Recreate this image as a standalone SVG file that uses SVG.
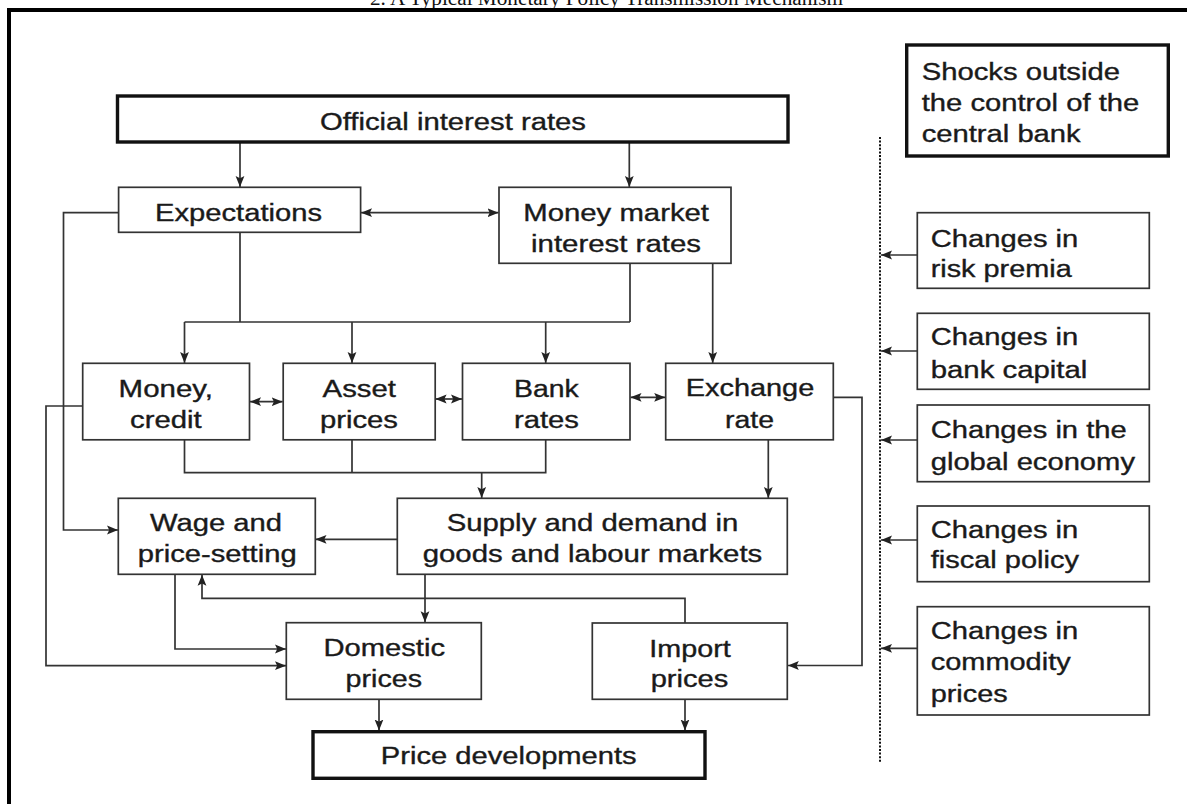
<svg xmlns="http://www.w3.org/2000/svg" width="1187" height="804" viewBox="0 0 1187 804">
<style>
.box{fill:#fff;stroke:#333;stroke-width:1.7}
.thick{fill:#fff;stroke:#111;stroke-width:3.4}
.t{font-family:"Liberation Sans",Arial,sans-serif;font-size:23px;fill:#1a1a1a;stroke:#1a1a1a;stroke-width:0.35}
.c{fill:none;stroke:#333;stroke-width:1.7}
.a{marker-end:url(#ah)}
.d{marker-end:url(#ah);marker-start:url(#ah)}
.dot{fill:none;stroke:#111;stroke-width:2;stroke-dasharray:2 1.6}
</style>
<defs>
<marker id="ah" markerUnits="userSpaceOnUse" markerWidth="11" markerHeight="11" viewBox="0 0 10 10" refX="10" refY="5" orient="auto-start-reverse">
<path d="M0,1 L10,5 L0,9 L2,5 Z" fill="#222"/>
</marker>
</defs>
<rect width="1187" height="804" fill="#fff"/>
<text x="370" y="5" font-family="Liberation Serif,Times New Roman,serif" font-size="20" fill="#111" textLength="473" lengthAdjust="spacingAndGlyphs">2. A Typical Monetary Policy Transmission Mechanism</text>
<path d="M9,804 V10 H1187" fill="none" stroke="#000" stroke-width="4"/>

<g id="connectors">
<path class="c a" d="M240,142 V187"/>
<path class="c a" d="M629.3,142 V187"/>
<path class="c d" d="M361,212.7 H498.5"/>
<path class="c a" d="M118.6,212.7 H63.5 V530 H118"/>
<path class="c" d="M240,232.3 V322 M184.5,322 H630 M630,263.3 V322"/>
<path class="c a" d="M184.5,322 V363"/>
<path class="c a" d="M352,322 V363"/>
<path class="c a" d="M545.7,322 V363"/>
<path class="c a" d="M712.7,263.3 V363"/>
<path class="c d" d="M250,401.7 H282.7"/>
<path class="c d" d="M435.6,399 H462"/>
<path class="c d" d="M630.5,397.3 H665.2"/>
<path class="c a" d="M82.7,406 H46 V665.7 H286"/>
<path class="c" d="M184.5,439.8 V472.7 H545.7 V439.8 M352,439.8 V472.7"/>
<path class="c a" d="M481.7,472.7 V498"/>
<path class="c a" d="M768.3,439.8 V498"/>
<path class="c a" d="M833.3,397.3 H862 V665.5 H787.8"/>
<path class="c a" d="M397.3,539.3 H315.5"/>
<path class="c a" d="M425,574.3 V622.3"/>
<path class="c a" d="M685,623 V598.3 H202 V574.8"/>
<path class="c a" d="M175,574.3 V649 H286"/>
<path class="c a" d="M379,699.3 V730.5"/>
<path class="c a" d="M685,699.3 V730.5"/>
<path class="dot" d="M880,137 V762"/>
<path class="c a" d="M917.3,255 H881"/>
<path class="c a" d="M917.3,351 H881"/>
<path class="c a" d="M917.3,440 H881"/>
<path class="c a" d="M917.3,540 H881"/>
<path class="c a" d="M917.3,648.3 H881"/>
</g>

<g id="official"><rect class="thick" x="117.5" y="96" width="670.5" height="46"/>
<text class="t" x="320" y="130" textLength="266" lengthAdjust="spacingAndGlyphs">Official interest rates</text></g>

<g id="expectations"><rect class="box" x="118.6" y="187.3" width="242" height="45"/>
<text class="t" x="155" y="220.5" textLength="167" lengthAdjust="spacingAndGlyphs">Expectations</text></g>

<g id="money-market"><rect class="box" x="499" y="187.3" width="232" height="76"/>
<text class="t" x="523.3" y="220.7" textLength="185.7" lengthAdjust="spacingAndGlyphs">Money market</text>
<text class="t" x="531" y="251.7" textLength="170" lengthAdjust="spacingAndGlyphs">interest rates</text></g>

<g id="money-credit"><rect class="box" x="82.7" y="363.3" width="166.8" height="76.5"/>
<text class="t" x="118.6" y="396.7" textLength="94.4" lengthAdjust="spacingAndGlyphs">Money,</text>
<text class="t" x="130" y="428.3" textLength="71.7" lengthAdjust="spacingAndGlyphs">credit</text></g>

<g id="asset-prices"><rect class="box" x="283.2" y="363.3" width="152" height="76.5"/>
<text class="t" x="322.6" y="396.5" textLength="73.4" lengthAdjust="spacingAndGlyphs">Asset</text>
<text class="t" x="320" y="428.3" textLength="78" lengthAdjust="spacingAndGlyphs">prices</text></g>

<g id="bank-rates"><rect class="box" x="462.5" y="363.3" width="167.5" height="76.5"/>
<text class="t" x="514" y="396.5" textLength="64.7" lengthAdjust="spacingAndGlyphs">Bank</text>
<text class="t" x="514" y="428.3" textLength="65" lengthAdjust="spacingAndGlyphs">rates</text></g>

<g id="exchange-rate"><rect class="box" x="665.7" y="363.3" width="167.6" height="76.5"/>
<text class="t" x="685.7" y="396" textLength="128.6" lengthAdjust="spacingAndGlyphs">Exchange</text>
<text class="t" x="725" y="428.3" textLength="49" lengthAdjust="spacingAndGlyphs">rate</text></g>

<g id="wage"><rect class="box" x="118.3" y="498.3" width="197" height="76"/>
<text class="t" x="150" y="531" textLength="132" lengthAdjust="spacingAndGlyphs">Wage and</text>
<text class="t" x="137.8" y="561.7" textLength="158.8" lengthAdjust="spacingAndGlyphs">price-setting</text></g>

<g id="supply-demand"><rect class="box" x="397.3" y="498.3" width="390" height="76"/>
<text class="t" x="446.7" y="530.7" textLength="291.6" lengthAdjust="spacingAndGlyphs">Supply and demand in</text>
<text class="t" x="422.7" y="561.7" textLength="339.6" lengthAdjust="spacingAndGlyphs">goods and labour markets</text></g>

<g id="domestic-prices"><rect class="box" x="286.3" y="622.7" width="195" height="76.6"/>
<text class="t" x="323.4" y="655.7" textLength="121.6" lengthAdjust="spacingAndGlyphs">Domestic</text>
<text class="t" x="345.6" y="686.7" textLength="76.4" lengthAdjust="spacingAndGlyphs">prices</text></g>

<g id="import-prices"><rect class="box" x="592.3" y="623" width="195" height="76.3"/>
<text class="t" x="649.3" y="656.7" textLength="81.4" lengthAdjust="spacingAndGlyphs">Import</text>
<text class="t" x="650.7" y="686.7" textLength="77.6" lengthAdjust="spacingAndGlyphs">prices</text></g>

<g id="price-developments"><rect class="thick" x="313" y="731.7" width="392" height="46.6"/>
<text class="t" x="380.8" y="764.3" textLength="255.9" lengthAdjust="spacingAndGlyphs">Price developments</text></g>

<g id="shocks"><rect class="thick" x="906.7" y="45" width="261.6" height="111"/>
<text class="t" x="921.7" y="80" textLength="198.3" lengthAdjust="spacingAndGlyphs">Shocks outside</text>
<text class="t" x="921.7" y="110.7" textLength="217.6" lengthAdjust="spacingAndGlyphs">the control of the</text>
<text class="t" x="921.7" y="142.3" textLength="159" lengthAdjust="spacingAndGlyphs">central bank</text></g>

<g id="risk-premia"><rect class="box" x="917.3" y="212.7" width="232" height="75.6"/>
<text class="t" x="930.7" y="246.7" textLength="147.6" lengthAdjust="spacingAndGlyphs">Changes in</text>
<text class="t" x="930.7" y="276.7" textLength="141" lengthAdjust="spacingAndGlyphs">risk premia</text></g>

<g id="bank-capital"><rect class="box" x="917.3" y="313.3" width="232" height="76"/>
<text class="t" x="930.7" y="345" textLength="147.6" lengthAdjust="spacingAndGlyphs">Changes in</text>
<text class="t" x="930.7" y="378.3" textLength="156.6" lengthAdjust="spacingAndGlyphs">bank capital</text></g>

<g id="global-economy"><rect class="box" x="917.3" y="405" width="232" height="76.7"/>
<text class="t" x="930.7" y="438.3" textLength="196" lengthAdjust="spacingAndGlyphs">Changes in the</text>
<text class="t" x="930.7" y="470" textLength="204.3" lengthAdjust="spacingAndGlyphs">global economy</text></g>

<g id="fiscal-policy"><rect class="box" x="917.3" y="506" width="232" height="75.7"/>
<text class="t" x="930.7" y="538.3" textLength="147.6" lengthAdjust="spacingAndGlyphs">Changes in</text>
<text class="t" x="930.7" y="568.3" textLength="148.3" lengthAdjust="spacingAndGlyphs">fiscal policy</text></g>

<g id="commodity-prices"><rect class="box" x="917.3" y="606.7" width="232" height="108.3"/>
<text class="t" x="930.7" y="639.3" textLength="147.6" lengthAdjust="spacingAndGlyphs">Changes in</text>
<text class="t" x="930.7" y="670" textLength="140" lengthAdjust="spacingAndGlyphs">commodity</text>
<text class="t" x="930.7" y="701.7" textLength="77" lengthAdjust="spacingAndGlyphs">prices</text></g>
</svg>
